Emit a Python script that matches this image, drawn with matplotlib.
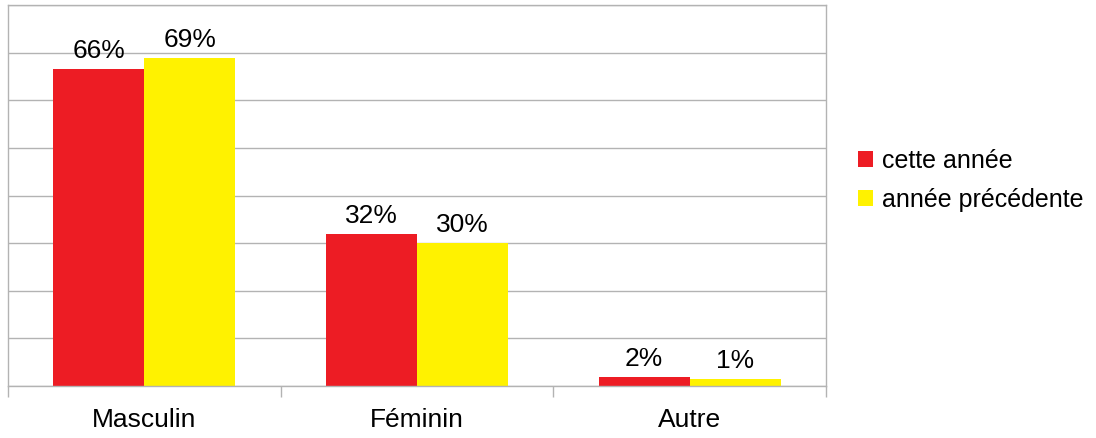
import numpy as np
import matplotlib.pyplot as plt

plt.rcParams['font.family'] = ['Liberation Sans', 'DejaVu Sans']

# --- data ---
categories = ["Masculin", "Féminin", "Autre"]
cette_annee = [0.665, 0.319, 0.019]
annee_prec = [0.689, 0.300, 0.014]
series_names = ["cette année", "année précédente"]

red = "#ed1c24"
yellow = "#fff200"
grid_col = "#b3b3b3"

fig = plt.figure(figsize=(10.96, 4.39), dpi=100)
ax = fig.add_axes([8/1096, 1 - 387/439, (826 - 8)/1096, (387 - 6)/439])

x = np.arange(len(categories))
w = 1/3
b1 = ax.bar(x - w/2, cette_annee, w, color=red, label=series_names[0], zorder=2)
b2 = ax.bar(x + w/2, annee_prec, w, color=yellow, label=series_names[1], zorder=2)

for bars, vals in ((b1, cette_annee), (b2, annee_prec)):
    ax.bar_label(bars, labels=[f"{round(v*100):.0f}%" for v in vals],
                 padding=5, fontsize=19)

ax.set_xlim(-0.5, 2.5)
ax.set_ylim(0, 0.8)
ax.set_yticks(np.arange(0, 0.81, 0.1))
ax.yaxis.grid(True, color=grid_col, linewidth=1)
ax.set_axisbelow(True)
ax.tick_params(axis='y', length=0, labelleft=False)

ax.set_xticks(x)
ax.set_xticklabels(categories, fontsize=19)
ax.set_xticks([-0.5, 0.5, 1.5, 2.5], minor=True)
ax.tick_params(axis='x', which='major', length=0, pad=15)
ax.tick_params(axis='x', which='minor', length=8, width=1, color=grid_col)

for s in ax.spines.values():
    s.set_color(grid_col)
    s.set_linewidth(1)

leg = fig.legend(loc='center left', bbox_to_anchor=(858/1096, 1 - 181/439),
                 frameon=False, fontsize=18, handlelength=0.6, handleheight=0.6,
                 handletextpad=0.35, labelspacing=0.6, borderaxespad=0,
                 borderpad=0)

fig.savefig("out.png", dpi=100)
